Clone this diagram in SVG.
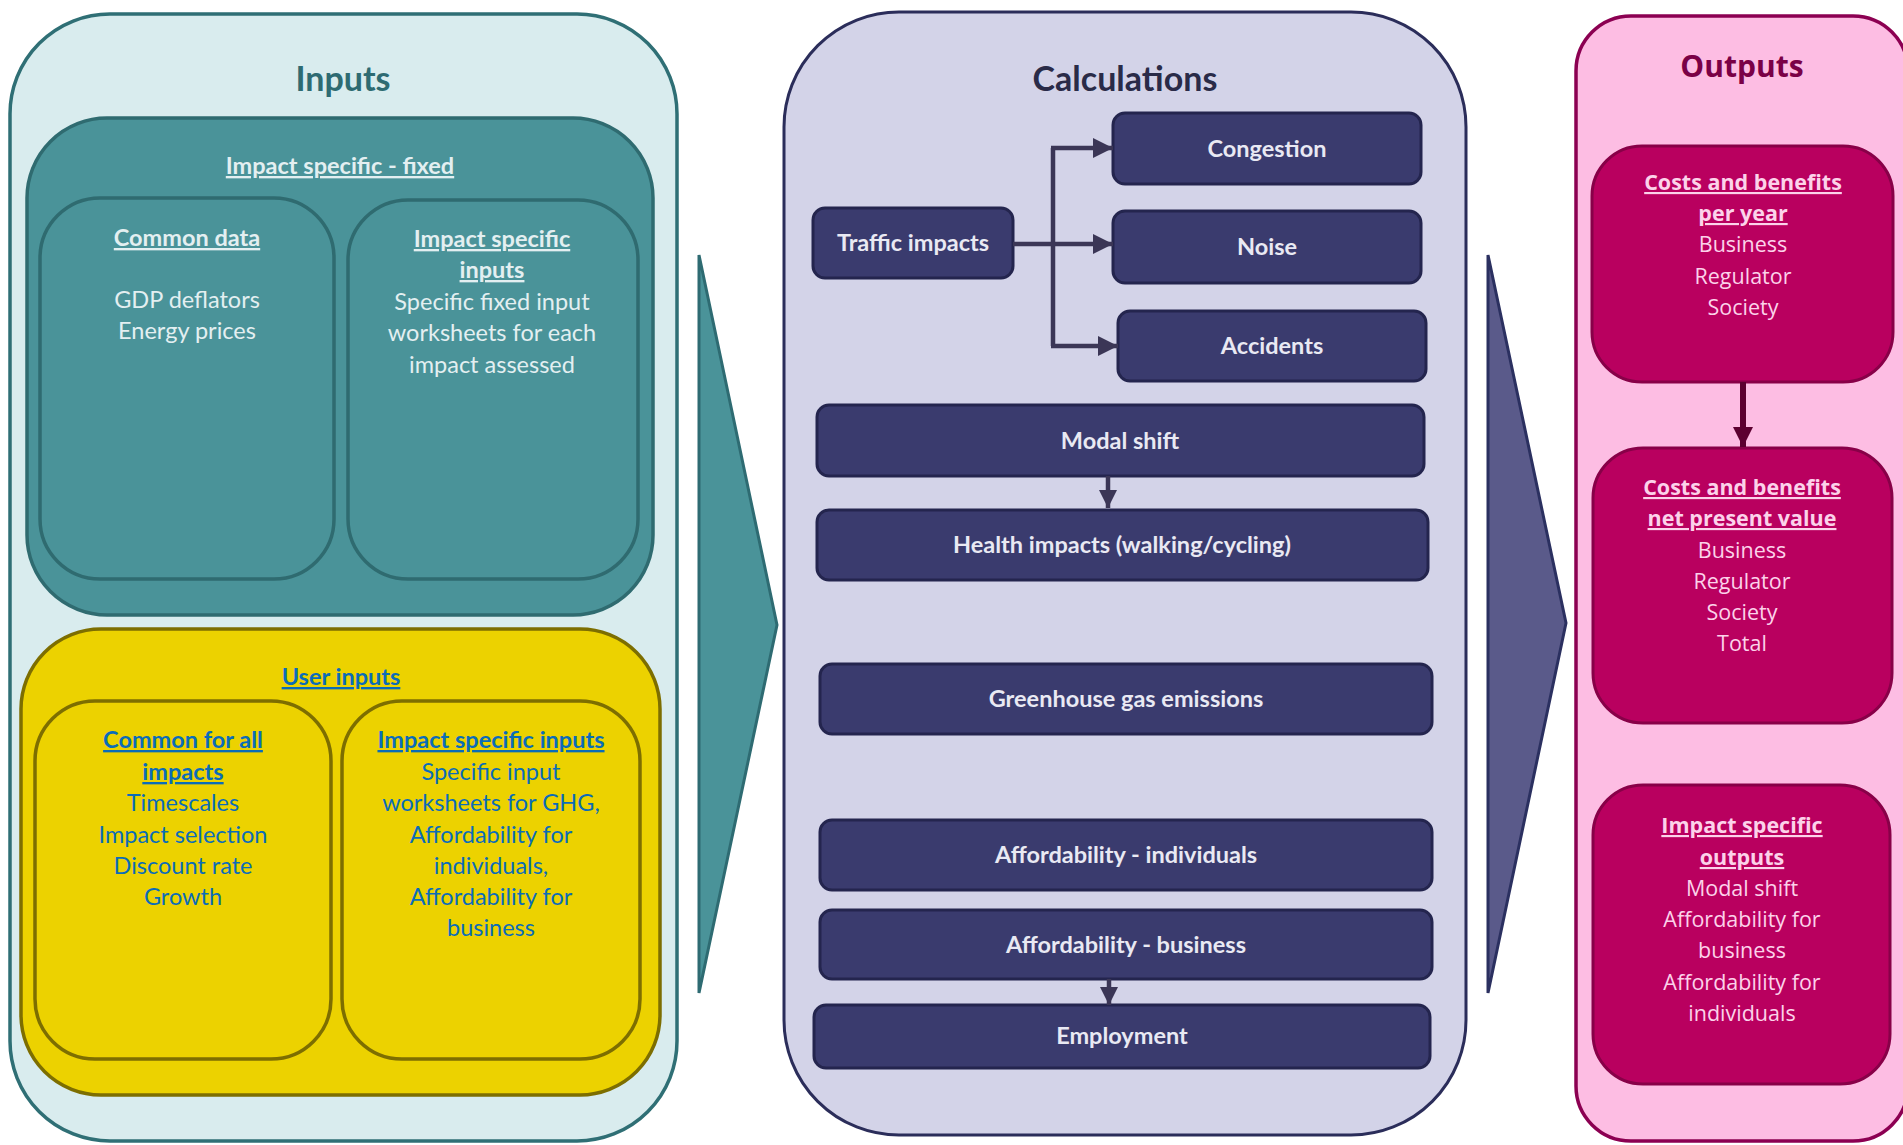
<svg xmlns="http://www.w3.org/2000/svg" width="1903" height="1145" viewBox="0 0 1903 1145">
<defs>
<style>
.lato{font-family:Lato,"Liberation Sans",sans-serif}
.os{font-family:"Open Sans","Liberation Sans",sans-serif}
text{text-anchor:middle}
.ttl{font-weight:bold;font-size:34px}
.tb{font-size:23.5px}
.b{font-weight:bold}
.u{text-decoration:underline}
.teal-t{fill:#e3eff1}
.yel-t{fill:#0b6cb8}
.calc-t{fill:#e9e9f3;font-weight:bold;font-size:23.5px}
.out-t{fill:#fcd2ea;font-size:21.5px}
.calcbox{fill:#3a3b6e;stroke:#24254e;stroke-width:3}
.outbox{fill:#b9005f;stroke:#880048;stroke-width:3}
.conn{fill:none;stroke:#3b3656;stroke-width:4.5}
</style>
<marker id="ah" viewBox="0 0 20 20" refX="20" refY="10" markerWidth="20" markerHeight="20" markerUnits="userSpaceOnUse" orient="auto">
<path d="M0,0 L20,10 L0,20 z" fill="#3b3656"/>
</marker>
<marker id="ahs" viewBox="0 0 20 20" refX="20" refY="10" markerWidth="18" markerHeight="18" markerUnits="userSpaceOnUse" orient="auto">
<path d="M0,0 L20,10 L0,20 z" fill="#3b3656"/>
</marker>
<marker id="aho" viewBox="0 0 20 20" refX="20" refY="10" markerWidth="20" markerHeight="20" markerUnits="userSpaceOnUse" orient="auto">
<path d="M0,0 L20,10 L0,20 z" fill="#5c0030"/>
</marker>
</defs>
<rect width="1903" height="1145" fill="#ffffff"/>

<g id="inputs">
<rect x="10" y="14" width="667" height="1127" rx="100" fill="#d9ecee" stroke="#2f6f75" stroke-width="3.5"/>
<text class="lato ttl" x="343" y="91" fill="#2e6b72">Inputs</text>
</g>
<g id="impact-fixed">
<rect x="27" y="118" width="626" height="497" rx="80" fill="#4a9399" stroke="#2f6b70" stroke-width="3.5"/>
<text class="lato tb b u teal-t" x="340" y="174">Impact specific - fixed</text>
</g>
<g id="common-data">
<rect x="40" y="198" width="294" height="381" rx="60" fill="#4a9399" stroke="#2f6b70" stroke-width="3.5"/>
<text class="lato tb teal-t" x="187"><tspan class="b u" x="187" y="246">Common data</tspan><tspan x="187" y="308">GDP deflators</tspan><tspan x="187" y="339">Energy prices</tspan></text>
</g>
<g id="impact-specific-fixed-inputs">
<rect x="348" y="200" width="290" height="379" rx="60" fill="#4a9399" stroke="#2f6b70" stroke-width="3.5"/>
<text class="lato tb teal-t"><tspan class="b u" x="492" y="247">Impact specific</tspan><tspan class="b u" x="492" y="278">inputs</tspan><tspan x="492" y="310">Specific fixed input</tspan><tspan x="492" y="341">worksheets for each</tspan><tspan x="492" y="373">impact assessed</tspan></text>
</g>
<g id="user-inputs">
<rect x="21" y="629" width="639" height="466" rx="80" fill="#ecd200" stroke="#7d6e00" stroke-width="3.5"/>
<text class="lato tb b u yel-t" x="341" y="685">User inputs</text>
</g>
<g id="common-all">
<rect x="35" y="701" width="296" height="358" rx="60" fill="#ecd200" stroke="#7d6e00" stroke-width="3.5"/>
<text class="lato tb yel-t"><tspan class="b u" x="183" y="748">Common for all</tspan><tspan class="b u" x="183" y="780">impacts</tspan><tspan x="183" y="811">Timescales</tspan><tspan x="183" y="843">Impact selection</tspan><tspan x="183" y="874">Discount rate</tspan><tspan x="183" y="905">Growth</tspan></text>
</g>
<g id="impact-specific-user-inputs">
<rect x="342" y="701" width="298" height="358" rx="60" fill="#ecd200" stroke="#7d6e00" stroke-width="3.5"/>
<text class="lato tb yel-t"><tspan class="b u" x="491" y="748">Impact specific inputs</tspan><tspan x="491" y="780">Specific input</tspan><tspan x="491" y="811">worksheets for GHG,</tspan><tspan x="491" y="843">Affordability for</tspan><tspan x="491" y="874">individuals,</tspan><tspan x="491" y="905">Affordability for</tspan><tspan x="491" y="936">business</tspan></text>
</g>

<g id="chevron-inputs">
<polygon points="699,255 777,625 699,993" fill="#4a9399" stroke="#2e6b72" stroke-width="3"/>
</g>
<g id="chevron-calculations">
<polygon points="1488,255 1566,623 1488,993" fill="#5a5a8a" stroke="#2b3060" stroke-width="3"/>
</g>

<g id="calculations">
<rect x="784" y="12" width="682" height="1123" rx="115" fill="#d3d3e8" stroke="#2b2d5a" stroke-width="3"/>
<text class="lato ttl" x="1125" y="91" fill="#2a2b48">Calculations</text>
</g>
<g id="traffic-impacts">
<rect class="calcbox" x="813" y="208" width="200" height="70" rx="12"/>
<text class="lato calc-t" x="913" y="251">Traffic impacts</text>
</g>
<g id="congestion">
<rect class="calcbox" x="1113" y="113" width="308" height="71" rx="12"/>
<text class="lato calc-t" x="1267" y="157">Congestion</text>
</g>
<g id="noise">
<rect class="calcbox" x="1113" y="211" width="308" height="72" rx="12"/>
<text class="lato calc-t" x="1267" y="255">Noise</text>
</g>
<g id="accidents">
<rect class="calcbox" x="1118" y="311" width="308" height="70" rx="12"/>
<text class="lato calc-t" x="1272" y="354">Accidents</text>
</g>
<g id="modal-shift">
<rect class="calcbox" x="817" y="405" width="607" height="71" rx="12"/>
<text class="lato calc-t" x="1120" y="449">Modal shift</text>
</g>
<g id="health-impacts">
<rect class="calcbox" x="817" y="510" width="611" height="70" rx="12"/>
<text class="lato calc-t" x="1122" y="553">Health impacts (walking/cycling)</text>
</g>
<g id="ghg">
<rect class="calcbox" x="820" y="664" width="612" height="70" rx="12"/>
<text class="lato calc-t" x="1126" y="707">Greenhouse gas emissions</text>
</g>
<g id="afford-individuals">
<rect class="calcbox" x="820" y="820" width="612" height="70" rx="12"/>
<text class="lato calc-t" x="1126" y="863">Affordability - individuals</text>
</g>
<g id="afford-business">
<rect class="calcbox" x="820" y="910" width="612" height="69" rx="12"/>
<text class="lato calc-t" x="1126" y="953">Affordability - business</text>
</g>
<g id="employment">
<rect class="calcbox" x="814" y="1005" width="616" height="63" rx="12"/>
<text class="lato calc-t" x="1122" y="1044">Employment</text>
</g>

<g id="outputs">
<rect x="1576" y="16" width="332" height="1125" rx="55" fill="#fdbde3" stroke="#8c0052" stroke-width="3.5"/>
<text class="os b" x="1742" y="77" font-size="30" fill="#7a0046">Outputs</text>
</g>
<g id="cb-per-year">
<rect class="outbox" x="1592" y="146" width="301" height="236" rx="50"/>
<text class="os out-t"><tspan class="b u" x="1743" y="190">Costs and benefits</tspan><tspan class="b u" x="1743" y="221">per year</tspan><tspan x="1743" y="252">Business</tspan><tspan x="1743" y="284">Regulator</tspan><tspan x="1743" y="315">Society</tspan></text>
</g>
<g id="cb-npv">
<rect class="outbox" x="1593" y="448" width="299" height="275" rx="50"/>
<text class="os out-t"><tspan class="b u" x="1742" y="495">Costs and benefits</tspan><tspan class="b u" x="1742" y="526">net present value</tspan><tspan x="1742" y="558">Business</tspan><tspan x="1742" y="589">Regulator</tspan><tspan x="1742" y="620">Society</tspan><tspan x="1742" y="651">Total</tspan></text>
</g>
<g id="impact-specific-outputs">
<rect class="outbox" x="1593" y="785" width="297" height="299" rx="50"/>
<text class="os out-t"><tspan class="b u" x="1742" y="833">Impact specific</tspan><tspan class="b u" x="1742" y="865">outputs</tspan><tspan x="1742" y="896">Modal shift</tspan><tspan x="1742" y="927">Affordability for</tspan><tspan x="1742" y="958">business</tspan><tspan x="1742" y="990">Affordability for</tspan><tspan x="1742" y="1021">individuals</tspan></text>
</g>

<g id="connectors">
<path class="conn" d="M1053,148 V346"/>
<path class="conn" d="M1013,244 H1113" marker-end="url(#ah)"/>
<path class="conn" d="M1051,148 H1113" marker-end="url(#ah)"/>
<path class="conn" d="M1051,346 H1118" marker-end="url(#ah)"/>
<path class="conn" d="M1108,476 V508" marker-end="url(#ahs)"/>
<path class="conn" d="M1109,979 V1005" marker-end="url(#ahs)"/>
<path d="M1743,382 V447" fill="none" stroke="#5c0030" stroke-width="6" marker-end="url(#aho)"/>
</g>
</svg>
